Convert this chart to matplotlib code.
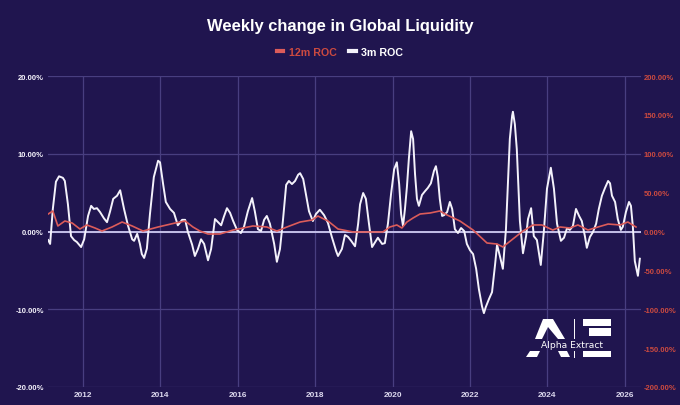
import matplotlib
matplotlib.use("Agg")
import matplotlib.pyplot as plt
from matplotlib import font_manager
from matplotlib.patches import Polygon
from matplotlib.lines import Line2D

# 3m ROC (white, left axis, %)
dates_3m = [2011.10, 2011.15, 2011.22, 2011.30, 2011.38, 2011.48, 2011.53, 2011.61, 2011.69, 2011.77,
            2011.84, 2011.95, 2012.03, 2012.13, 2012.21, 2012.28, 2012.36, 2012.44, 2012.54, 2012.62,
            2012.70, 2012.78, 2012.88, 2012.96, 2013.06, 2013.16, 2013.27, 2013.32, 2013.40, 2013.47,
            2013.52, 2013.58, 2013.65, 2013.73, 2013.83, 2013.94, 2013.99, 2014.07, 2014.14, 2014.25,
            2014.35, 2014.45, 2014.56, 2014.64, 2014.71, 2014.82, 2014.89, 2014.97, 2015.05, 2015.13,
            2015.23, 2015.31, 2015.41, 2015.49, 2015.57, 2015.64, 2015.72, 2015.80, 2015.88, 2015.98,
            2016.08, 2016.16, 2016.26, 2016.37, 2016.44, 2016.52, 2016.60, 2016.68, 2016.75, 2016.83,
            2016.94, 2017.01, 2017.09, 2017.17, 2017.25, 2017.32, 2017.40, 2017.48, 2017.56, 2017.61,
            2017.69, 2017.76, 2017.84, 2017.94, 2018.02, 2018.12, 2018.23, 2018.33, 2018.43, 2018.54,
            2018.59, 2018.69, 2018.77, 2018.85, 2018.93, 2019.03, 2019.11, 2019.16, 2019.24, 2019.31,
            2019.39, 2019.47, 2019.55, 2019.62, 2019.73, 2019.80, 2019.88, 2019.96, 2020.04, 2020.11,
            2020.17, 2020.22, 2020.27, 2020.32, 2020.37, 2020.42, 2020.48, 2020.53, 2020.58, 2020.63,
            2020.68, 2020.76, 2020.84, 2020.91, 2020.99, 2021.07, 2021.12, 2021.17, 2021.22, 2021.28,
            2021.33, 2021.41, 2021.48, 2021.54, 2021.61, 2021.69, 2021.77, 2021.85, 2021.92, 2022.00,
            2022.08, 2022.16, 2022.23, 2022.31, 2022.36, 2022.41, 2022.49, 2022.57, 2022.65, 2022.70,
            2022.78, 2022.85, 2022.93, 2022.98, 2023.03, 2023.09, 2023.11, 2023.16, 2023.21, 2023.29,
            2023.37, 2023.45, 2023.50, 2023.58, 2023.65, 2023.73, 2023.83, 2023.91, 2023.99, 2024.09,
            2024.17, 2024.25, 2024.35, 2024.43, 2024.51, 2024.58, 2024.66, 2024.74, 2024.82, 2024.89,
            2024.97, 2025.02, 2025.10, 2025.18, 2025.26, 2025.33, 2025.41, 2025.49, 2025.57, 2025.62,
            2025.67, 2025.75, 2025.82, 2025.90, 2025.95, 2026.03, 2026.11, 2026.16, 2026.21, 2026.26,
            2026.34, 2026.39]
roc_3m = [-1.1, -1.6, 2.9, 6.4, 7.1, 6.9, 6.5, 3.5, -0.6, -1.1,
          -1.35, -2.0, -1.0, 2.0, 3.3, 2.9, 3.0, 2.5, 1.7, 1.2,
          2.6, 4.2, 4.6, 5.3, 2.9, 0.8, -1.0, -1.2, -0.3, -1.6,
          -2.9, -3.4, -2.2, 2.25, 7.0, 9.1, 8.9, 6.1, 3.8, 2.9,
          2.4, 0.8, 1.5, 1.5, -0.06, -1.7, -3.15, -2.25, -1.0, -1.6,
          -3.7, -2.25, 1.6, 1.2, 0.8, 1.9, 3.0, 2.4, 1.35, 0.2,
          -0.2, 0.6, 2.6, 4.3, 2.6, 0.3, 0.06, 1.5, 2.0, 1.0,
          -1.6, -3.9, -2.25, 1.6, 6.0, 6.5, 6.1, 6.5, 7.3, 7.5,
          6.75, 4.8, 2.6, 1.35, 2.25, 2.8, 2.1, 1.1, -0.7, -2.5,
          -3.15, -2.25, -0.45, -0.7, -1.2, -1.9, 1.0, 3.5, 4.95, 4.2,
          1.0, -2.0, -1.35, -0.8, -1.6, -1.5, 1.0, 4.8, 8.0, 8.9,
          6.1, 2.25, 0.7, 2.9, 5.7, 9.3, 12.9, 11.9, 7.4, 4.2,
          3.3, 4.7, 5.2, 5.6, 6.2, 7.8, 8.4, 7.0, 4.2, 2.0,
          2.1, 2.5, 3.8, 2.9, 0.3, -0.2, 0.45, 0.06, -1.6, -2.4,
          -2.9, -4.8, -7.4, -9.6, -10.5, -9.7, -8.7, -7.8, -4.2, -1.7,
          -3.3, -4.8, 0.3, 6.1, 11.9, 14.9, 15.4, 13.8, 10.6, 1.35,
          -2.8, -0.6, 1.6, 3.0, -0.6, -1.1, -4.3, 0.06, 5.5, 8.2,
          5.5, 1.0, -1.2, -0.8, 0.45, 0.2, 0.7, 2.9, 2.0, 1.35,
          -0.6, -2.1, -0.7, -0.06, 1.0, 2.9, 4.6, 5.6, 6.5, 6.2,
          4.6, 3.8, 1.6, 0.2, 0.6, 2.5, 3.8, 3.3, 0.6, -3.8,
          -5.7, -3.5]

# 12m ROC (red, right axis, %)
dates_12m = [2011.10, 2011.22, 2011.35, 2011.53, 2011.72, 2011.92, 2012.10, 2012.31, 2012.49, 2012.75,
             2013.01, 2013.27, 2013.55, 2013.94, 2014.38, 2014.64, 2014.84, 2015.02, 2015.23, 2015.54,
             2015.88, 2016.39, 2016.75, 2017.01, 2017.27, 2017.61, 2017.92, 2018.07, 2018.33, 2018.59,
             2018.98, 2019.49, 2019.75, 2019.93, 2020.11, 2020.24, 2020.37, 2020.53, 2020.71, 2020.97,
             2021.22, 2021.41, 2021.74, 2022.08, 2022.44, 2022.70, 2022.85, 2023.11, 2023.37, 2023.63,
             2023.86, 2024.14, 2024.33, 2024.58, 2024.79, 2025.05, 2025.31, 2025.57, 2025.88, 2026.08,
             2026.29]
roc_12m = [22.5, 26.4, 7.1, 13.5, 10.9, 3.2, 8.4, 4.5, 0.6, 5.8,
           12.2, 7.1, 0.6, 5.8, 10.9, 13.5, 5.8, 0.6, -3.2, -3.2,
           1.9, 7.1, 5.8, 0.6, 5.8, 12.2, 14.8, 19.9, 13.5, 3.2,
           -0.6, -0.6, -0.6, 5.8, 8.4, 4.5, 12.2, 17.4, 22.5, 23.8,
           26.4, 21.2, 13.5, 1.9, -14.8, -16.1, -19.9, -9.6, 0.6, 8.4,
           8.4, 1.9, 5.8, 4.5, 8.4, 1.9, 5.8, 9.6, 8.4, 12.2,
           5.8]

left_ticks = [-20, -10, 0, 10, 20]
right_ticks = [-200, -150, -100, -50, 0, 50, 100, 150, 200]
year_ticks = [2012, 2014, 2016, 2018, 2020, 2022, 2024, 2026]

BG = "#20154f"
GRID = "#483e80"
RED = "#dc5c5a"
RED_TXT = "#cc4a40"
WHITE = "#f4f2fb"

names = {f.name for f in font_manager.fontManager.ttflist}
narrow = "Liberation Sans Narrow" in names
FAM = "Liberation Sans Narrow" if narrow else "Liberation Sans"
plt.rcParams["font.family"] = [FAM, "DejaVu Sans"]
k = 1.0 if narrow else 0.85

fig = plt.figure(figsize=(6.8, 4.06), dpi=100, facecolor=BG)
ax = fig.add_axes([48 / 680, 1 - 388 / 406, 593 / 680, 311 / 406])
ax.set_facecolor(BG)
ax2 = ax.twinx()

ax.set_xlim(2011.095, 2026.42)
ax.set_ylim(-20, 20)
ax2.set_ylim(-200, 200)

for a in (ax, ax2):
    for s in a.spines.values():
        s.set_visible(False)

ax.set_yticks(left_ticks)
ax.set_yticklabels([f"{v:.2f}%" for v in left_ticks])
ax2.set_yticks(right_ticks)
ax2.set_yticklabels([f"{v:.2f}%" for v in right_ticks])
ax.set_xticks(year_ticks)
ax.set_xticklabels([str(y) for y in year_ticks])

ax.tick_params(axis="y", length=0, pad=3, labelsize=6.5 * k, labelcolor=WHITE)
ax2.tick_params(axis="y", length=0, pad=2, labelsize=6.5 * k, labelcolor=RED_TXT)
ax.tick_params(axis="x", length=0, pad=3, labelsize=7 * k, labelcolor="#dcd8ee")
for lab in ax.get_yticklabels() + ax2.get_yticklabels() + ax.get_xticklabels():
    lab.set_fontweight("bold")

ax.grid(True, color=GRID, lw=0.9)
ax.set_axisbelow(True)
ax.axhline(0, color="#c4bfe8", lw=1.4, zorder=1)

l3, = ax.plot(dates_3m, roc_3m, color=WHITE, lw=1.4, zorder=3, label="3m ROC")
l12, = ax2.plot(dates_12m, roc_12m, color=RED, lw=1.2, zorder=2, label="12m ROC")

fig.text(0.5, 1 - 27 / 406, "Weekly change in Global Liquidity", ha="center", va="center",
         color="white", fontsize=14 * k, fontweight="bold")

leg = fig.legend([l12, l3], ["12m ROC", "3m ROC"], loc="center", bbox_to_anchor=(0.5, 1 - 53 / 406),
                 ncol=2, frameon=False, handlelength=0.6, handletextpad=0.5, columnspacing=1.2,
                 prop={"weight": "bold", "size": 9 * k})
for h in leg.legend_handles:
    h.set_linewidth(3)
leg.get_texts()[0].set_color(RED_TXT)
leg.get_texts()[1].set_color("white")


# Alpha Extract logo (pixel coordinates -> figure fraction)
def P(x, y):
    return (x / 680, 1 - y / 406)


def poly(pts):
    fig.add_artist(Polygon([P(x, y) for x, y in pts], closed=True, facecolor="white",
                           edgecolor="none", transform=fig.transFigure, zorder=10))


poly([(535, 340), (543, 320), (553, 320), (565, 340), (558, 340), (548, 328), (542, 340)])
poly([(526, 358), (530, 352), (540, 352), (537, 358)])
poly([(558, 352), (567, 352), (570, 358), (561, 358)])
poly([(583, 320), (611, 320), (611, 327), (583, 327)])
poly([(589, 329), (611, 329), (611, 337), (589, 337)])
poly([(583, 352), (611, 352), (611, 358), (583, 358)])
fig.add_artist(Line2D([574 / 680, 574 / 680], [1 - 320 / 406, 1 - 339 / 406], color="white",
                      lw=0.7, transform=fig.transFigure, zorder=10))
fig.add_artist(Line2D([574 / 680, 574 / 680], [1 - 352 / 406, 1 - 358 / 406], color="white",
                      lw=0.7, transform=fig.transFigure, zorder=10))
fig.text(572 / 680, 1 - 346 / 406, "Alpha Extract", ha="center", va="center", color="white",
         fontsize=6.6, family=["DejaVu Sans"], zorder=11)

fig.savefig("out.png", dpi=100, facecolor=BG)
